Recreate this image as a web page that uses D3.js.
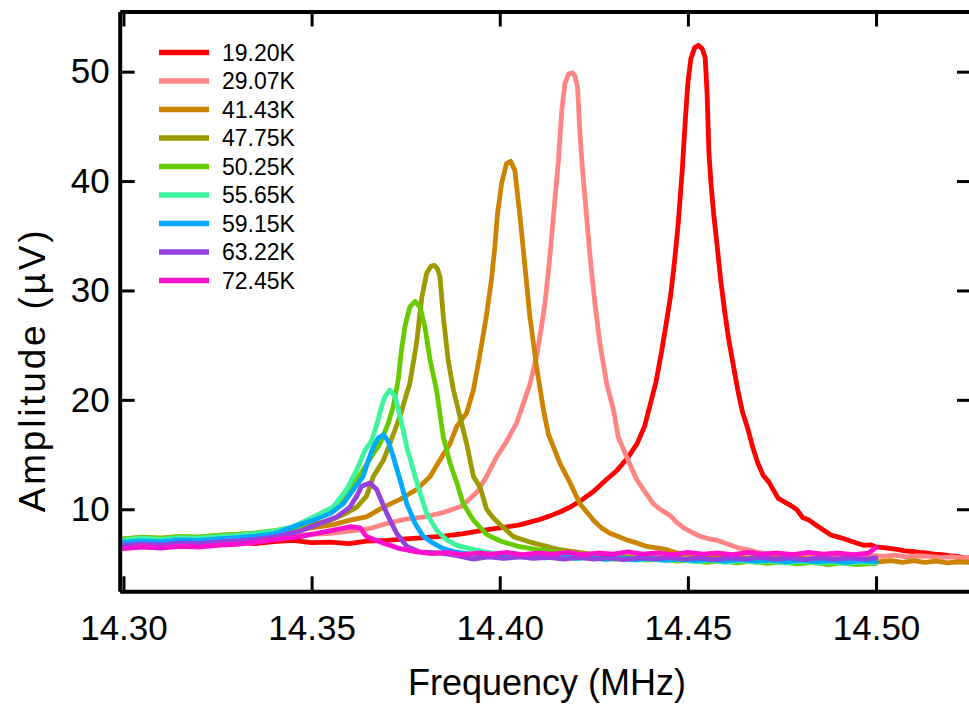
<!DOCTYPE html>
<html>
<head>
<meta charset="utf-8">
<script src="https://cdn.jsdelivr.net/npm/d3@7"></script>
<style>
  html, body { margin: 0; padding: 0; background: #fff; }
  svg { display: block; font-family: "Liberation Sans", Arial, Helvetica, sans-serif; }
</style>
</head>
<body>
<svg id="chart" width="969" height="706"></svg>
<script>
// Resonance amplitude spectra at several temperatures: [frequency (MHz), amplitude (µV)]
const legendLabels = ["19.20K", "29.07K", "41.43K", "47.75K", "50.25K", "55.65K", "59.15K", "63.22K", "72.45K"];
const legendColours = ["#ff0000", "#ff8585", "#cc8400", "#9c9a00", "#66cc00", "#3cf59c", "#00a8ff", "#9640e0", "#ff10cc"];

const xTicks = [14.30, 14.35, 14.40, 14.45, 14.50];
const yTicks = [10, 20, 30, 40, 50];

const t1920 = [
  [14.300,7.00],[14.305,7.10],[14.310,6.95],[14.315,7.05],[14.320,6.90],[14.325,7.10],[14.330,7.00],[14.335,6.85],
  [14.340,7.05],[14.345,7.15],[14.350,6.95],[14.355,7.00],[14.360,6.85],[14.365,7.10],[14.370,7.15],[14.375,7.30],
  [14.380,7.40],[14.385,7.55],[14.390,7.75],[14.395,8.05],[14.400,8.30],[14.405,8.55],[14.410,9.00],[14.413,9.35],
  [14.416,9.75],[14.419,10.25],[14.422,10.90],[14.425,11.65],[14.428,12.60],[14.431,13.50],[14.434,14.70],[14.4365,16.0],
  [14.4385,17.6],[14.4400,19.6],[14.4415,21.6],[14.4430,24.4],[14.4442,26.9],[14.4454,29.5],[14.4464,32.5],[14.4474,36.0],
  [14.4485,41.0],[14.4493,45.5],[14.4500,49.0],[14.4508,51.2],[14.4518,52.2],[14.4528,52.4],[14.4538,52.1],[14.4546,51.3],
  [14.4551,48.0],[14.4556,42.5],[14.4562,39.5],[14.4569,36.8],[14.4578,34.0],[14.4587,31.0],[14.4598,28.0],[14.4609,25.4],
  [14.4620,23.3],[14.4632,21.0],[14.4645,18.9],[14.4658,17.5],[14.4672,15.7],[14.4686,14.2],[14.4700,13.1],[14.4715,12.5],
  [14.4728,11.7],[14.4740,11.0],[14.4755,10.7],[14.4773,10.35],[14.4790,9.95],[14.4805,9.25],[14.4820,9.05],[14.4843,8.50],
  [14.4860,8.10],[14.4880,7.65],[14.4900,7.45],[14.4915,7.30],[14.4932,7.10],[14.4950,6.90],[14.4967,6.70],[14.4985,6.75],
  [14.5000,6.55],[14.5020,6.50],[14.5040,6.40],[14.5060,6.30],[14.5075,6.20],[14.5095,6.15],[14.5115,6.05],[14.5135,6.00],
  [14.5155,5.90],[14.5175,5.85],[14.5195,5.75],[14.5215,5.70],[14.5235,5.55],[14.5252,5.45]
];

const t2907 = [
  [14.300,7.20],[14.305,7.30],[14.310,7.15],[14.315,7.35],[14.320,7.25],[14.325,7.40],[14.330,7.30],[14.335,7.50],
  [14.340,7.45],[14.345,7.60],[14.350,7.70],[14.355,7.80],[14.360,8.00],[14.365,8.20],[14.370,8.70],[14.375,9.10],
  [14.380,9.30],[14.385,9.70],[14.390,10.30],[14.394,11.6],[14.3965,13.0],[14.3992,14.8],[14.4018,16.2],[14.4045,17.9],
  [14.4063,19.7],[14.4080,21.4],[14.4098,24.0],[14.4110,26.5],[14.4120,28.8],[14.4130,32.0],[14.4138,34.9],[14.4147,38.5],
  [14.4156,41.9],[14.4165,46.5],[14.4173,48.9],[14.4183,49.8],[14.4193,49.9],[14.4200,49.6],[14.4207,48.5],[14.4213,44.4],
  [14.4220,41.0],[14.4227,38.3],[14.4240,33.1],[14.4253,28.8],[14.4266,25.2],[14.4284,21.5],[14.4302,19.1],[14.4315,16.6],
  [14.4337,14.8],[14.4364,12.7],[14.4382,11.8],[14.4408,10.5],[14.4430,9.9],[14.4454,9.4],[14.4470,8.8],[14.4489,8.3],
  [14.4510,7.9],[14.4534,7.5],[14.4556,7.3],[14.4578,7.15],[14.4600,6.9],[14.4631,6.5],[14.4660,6.3],[14.4693,6.0],
  [14.472,5.95],[14.475,5.85],[14.478,5.90],[14.481,5.80],[14.484,5.85],[14.487,5.75],[14.490,5.80],[14.493,5.70],
  [14.496,5.80],[14.499,5.75],[14.502,5.70],[14.505,5.80],[14.508,5.65],[14.511,5.75],[14.514,5.70],[14.517,5.60],
  [14.520,5.65],[14.523,5.55],[14.5252,5.60]
];

const t4143 = [
  [14.300,7.30],[14.305,7.40],[14.310,7.35],[14.315,7.50],[14.320,7.45],[14.325,7.60],[14.330,7.70],[14.335,7.80],
  [14.340,7.95],[14.345,8.10],[14.350,8.30],[14.3558,8.6],[14.3602,9.0],[14.3646,9.3],[14.3691,10.2],[14.3735,10.9],
  [14.3779,11.8],[14.3815,13.0],[14.3841,14.5],[14.3868,16.0],[14.3886,17.6],[14.3912,18.8],[14.3930,20.9],[14.3948,24.3],
  [14.3965,27.8],[14.3978,31.0],[14.3987,34.0],[14.3994,37.0],[14.4005,39.8],[14.4018,41.6],[14.4029,41.8],[14.4040,41.0],
  [14.4054,36.7],[14.4067,32.2],[14.4080,27.6],[14.4098,23.0],[14.4116,19.1],[14.4129,16.9],[14.4145,15.5],[14.4160,14.2],
  [14.4187,12.4],[14.4213,10.5],[14.4230,9.8],[14.4249,9.0],[14.4270,8.3],[14.4293,7.8],[14.4315,7.5],[14.4337,7.2],
  [14.4365,6.9],[14.4391,6.6],[14.4420,6.45],[14.4444,6.3],[14.447,6.00],[14.450,5.90],[14.453,5.75],[14.456,5.80],
  [14.459,5.60],[14.462,5.70],[14.465,5.55],[14.468,5.60],[14.471,5.45],[14.474,5.55],[14.477,5.40],[14.480,5.50],
  [14.483,5.35],[14.486,5.45],[14.489,5.30],[14.492,5.40],[14.495,5.25],[14.498,5.35],[14.501,5.20],[14.504,5.30],
  [14.507,5.15],[14.510,5.30],[14.513,5.15],[14.516,5.25],[14.519,5.10],[14.522,5.20],[14.5252,5.15]
];

const t4775 = [
  [14.300,7.25],[14.305,7.35],[14.310,7.30],[14.315,7.45],[14.320,7.40],[14.325,7.55],[14.330,7.65],[14.335,7.80],
  [14.340,8.00],[14.345,8.25],[14.350,8.55],[14.355,9.00],[14.359,9.60],[14.3620,10.2],[14.3646,11.2],[14.3664,13.0],
  [14.3691,14.5],[14.3708,16.0],[14.3735,18.5],[14.3753,20.6],[14.3761,21.5],[14.3779,25.2],[14.3793,29.4],[14.3806,31.6],
  [14.3817,32.2],[14.3826,32.3],[14.3834,32.0],[14.3841,31.3],[14.3850,27.6],[14.3863,23.6],[14.3877,20.9],[14.3894,18.5],
  [14.3912,16.0],[14.3930,13.0],[14.3948,12.0],[14.3965,10.0],[14.3983,9.2],[14.4001,8.6],[14.4036,7.5],[14.4080,7.0],
  [14.4125,6.6],[14.416,6.30],[14.420,6.10],[14.424,5.90],[14.428,5.85],[14.432,5.70],[14.436,5.55],[14.440,5.60],
  [14.444,5.40],[14.448,5.50],[14.452,5.35],[14.456,5.45],[14.460,5.25],[14.464,5.40],[14.468,5.20],[14.472,5.35],
  [14.476,5.15],[14.480,5.30],[14.484,5.10],[14.488,5.25],[14.492,5.05],[14.496,5.20],[14.500,5.15]
];

const t5025 = [
  [14.300,7.30],[14.305,7.45],[14.310,7.35],[14.315,7.50],[14.320,7.45],[14.325,7.60],[14.330,7.70],[14.335,7.85],
  [14.340,8.05],[14.3469,8.4],[14.3513,9.3],[14.3558,10.2],[14.3602,11.8],[14.3637,13.6],[14.3664,15.1],[14.3682,16.0],
  [14.3704,17.9],[14.3717,19.4],[14.3730,21.8],[14.3739,24.6],[14.3748,26.7],[14.3761,28.5],[14.3775,29.0],[14.3788,28.5],
  [14.3801,26.7],[14.3815,23.6],[14.3832,20.9],[14.3850,16.6],[14.3868,14.2],[14.3886,12.4],[14.3903,10.5],[14.3930,9.0],
  [14.3965,7.7],[14.4001,7.1],[14.405,6.60],[14.410,6.30],[14.415,6.10],[14.419,5.85],[14.423,5.70],[14.427,5.60],
  [14.431,5.45],[14.435,5.55],[14.439,5.35],[14.443,5.45],[14.447,5.25],[14.451,5.35],[14.455,5.15],[14.459,5.30],
  [14.463,5.10],[14.467,5.25],[14.471,5.05],[14.475,5.20],[14.479,5.00],[14.483,5.15],[14.487,4.95],[14.491,5.10],
  [14.495,4.95],[14.500,5.05]
];

const t5565 = [
  [14.300,7.20],[14.305,7.35],[14.310,7.25],[14.315,7.40],[14.320,7.35],[14.325,7.50],[14.330,7.60],[14.335,7.80],
  [14.340,8.00],[14.345,8.40],[14.3487,9.0],[14.3522,9.6],[14.3558,10.2],[14.3593,11.8],[14.3620,13.6],[14.3642,15.4],
  [14.3660,16.3],[14.3677,18.2],[14.3686,19.4],[14.3695,20.3],[14.3708,20.9],[14.3722,20.3],[14.3735,18.5],[14.3753,15.7],
  [14.3770,13.6],[14.3788,11.5],[14.3806,9.6],[14.3832,8.1],[14.3859,7.2],[14.3886,6.7],[14.392,6.40],[14.396,6.10],
  [14.400,5.90],[14.404,5.75],[14.408,5.80],[14.412,5.60],[14.416,5.70],[14.420,5.50],[14.424,5.60],[14.428,5.40],
  [14.432,5.50],[14.436,5.35],[14.440,5.45],[14.444,5.30],[14.448,5.40],[14.452,5.20],[14.456,5.35],[14.460,5.15],
  [14.464,5.30],[14.468,5.15],[14.472,5.25],[14.476,5.10],[14.480,5.25],[14.484,5.10],[14.488,5.20],[14.492,5.05],
  [14.496,5.20],[14.500,5.10]
];

const t5915 = [
  [14.300,7.00],[14.305,7.10],[14.310,7.05],[14.315,7.20],[14.320,7.15],[14.325,7.30],[14.330,7.40],[14.335,7.55],
  [14.340,7.75],[14.3469,8.6],[14.3504,9.0],[14.3549,9.6],[14.3584,10.5],[14.3611,11.8],[14.3637,13.0],[14.3651,14.5],
  [14.3664,15.7],[14.3677,16.5],[14.3691,16.8],[14.3704,16.2],[14.3717,14.8],[14.3735,12.7],[14.3753,10.5],[14.3775,8.7],
  [14.3797,7.5],[14.3823,6.9],[14.3850,6.4],[14.388,6.10],[14.392,5.90],[14.396,5.80],[14.400,5.85],[14.404,5.65],
  [14.408,5.75],[14.412,5.55],[14.416,5.70],[14.420,5.50],[14.424,5.60],[14.428,5.45],[14.432,5.55],[14.436,5.40],
  [14.440,5.50],[14.444,5.35],[14.448,5.45],[14.452,5.30],[14.456,5.40],[14.460,5.25],[14.464,5.40],[14.468,5.25],
  [14.472,5.35],[14.476,5.20],[14.480,5.35],[14.484,5.20],[14.488,5.30],[14.492,5.15],[14.496,5.30],[14.500,5.20]
];

const t6322 = [
  [14.300,6.70],[14.305,6.80],[14.310,6.75],[14.315,6.90],[14.320,6.85],[14.325,7.00],[14.330,7.10],[14.335,7.25],
  [14.340,7.45],[14.3469,8.0],[14.3522,8.7],[14.3567,9.3],[14.3602,10.2],[14.3620,11.2],[14.3633,12.1],[14.3655,12.4],
  [14.3673,11.8],[14.3700,9.6],[14.3726,7.8],[14.3753,6.6],[14.3788,6.1],[14.3841,6.0],[14.388,5.80],[14.393,5.45],
  [14.397,5.65],[14.401,5.50],[14.405,5.65],[14.409,5.50],[14.413,5.60],[14.417,5.45],[14.421,5.60],[14.425,5.45],
  [14.429,5.55],[14.433,5.40],[14.437,5.55],[14.441,5.45],[14.445,5.60],[14.449,5.45],[14.453,5.55],[14.457,5.40],
  [14.461,5.55],[14.465,5.45],[14.469,5.60],[14.473,5.45],[14.477,5.55],[14.481,5.40],[14.485,5.55],[14.489,5.45],
  [14.493,5.55],[14.497,5.45],[14.500,5.55]
];

const t7245 = [
  [14.300,6.40],[14.305,6.55],[14.310,6.45],[14.315,6.60],[14.320,6.55],[14.325,6.70],[14.330,6.80],[14.335,6.95],
  [14.340,7.20],[14.3469,7.5],[14.3513,7.8],[14.3558,8.1],[14.3602,8.4],[14.3629,8.3],[14.3646,7.5],[14.3691,6.9],
  [14.3735,6.4],[14.3779,6.1],[14.382,5.95],[14.386,6.05],[14.390,5.85],[14.394,6.00],[14.398,5.90],[14.402,6.05],
  [14.406,5.85],[14.410,6.00],[14.414,5.90],[14.418,6.05],[14.422,5.85],[14.426,6.00],[14.430,5.90],[14.434,6.10],
  [14.438,5.90],[14.442,6.00],[14.446,5.85],[14.450,6.05],[14.454,5.90],[14.458,6.00],[14.462,5.85],[14.466,6.05],
  [14.470,5.90],[14.474,6.00],[14.478,5.85],[14.482,6.05],[14.486,5.90],[14.490,6.00],[14.494,5.85],[14.498,6.00],
  [14.500,6.50]
];

const spectra = [t1920, t2907, t4143, t4775, t5025, t5565, t5915, t6322, t7245];

// Plot frame (right edge sits just past the window)
const frameLeft = 119.7, frameRight = 972, frameTop = 11.5, frameBottom = 591.3;

const svg = d3.select("#chart");

const x = d3.scaleLinear().domain([14.299, 14.5255]).range([frameLeft, frameRight]);
const y = d3.scaleLinear().domain([2.5, 55.5]).range([frameBottom, frameTop]);

// Curves
const line = d3.line().x(d => x(d[0])).y(d => y(d[1]));

svg.append("g")
  .selectAll("path")
  .data(spectra)
  .join("path")
  .attr("d", line)
  .attr("fill", "none")
  .attr("stroke", (d, i) => legendColours[i])
  .attr("stroke-width", 4.8)
  .attr("stroke-linejoin", "round")
  .attr("stroke-linecap", "round");

// Axes: inward ticks, mirrored on top and right
const tickLen = 15;
function styleAxis(g) {
  g.select(".domain").attr("stroke", "#000").attr("stroke-width", 4);
  g.selectAll(".tick line").attr("stroke", "#000").attr("stroke-width", 3);
  g.selectAll(".tick text")
    .attr("fill", "#000")
    .style("font-size", "35px")
    .style("font-family", '"Liberation Sans", Arial, Helvetica, sans-serif');
}

svg.append("g")
  .attr("transform", `translate(0,${frameBottom})`)
  .call(d3.axisBottom(x).tickValues(xTicks).tickFormat(d3.format(".2f"))
    .tickSizeInner(-tickLen).tickSizeOuter(0).tickPadding(24))
  .call(styleAxis);

svg.append("g")
  .attr("transform", `translate(0,${frameTop})`)
  .call(d3.axisTop(x).tickValues(xTicks).tickFormat("")
    .tickSizeInner(-tickLen).tickSizeOuter(0))
  .call(styleAxis);

svg.append("g")
  .attr("transform", `translate(${frameLeft},0)`)
  .call(d3.axisLeft(y).tickValues(yTicks).tickFormat(d3.format("d"))
    .tickSizeInner(-tickLen).tickSizeOuter(0).tickPadding(10))
  .call(styleAxis);

svg.append("g")
  .attr("transform", `translate(${frameRight},0)`)
  .call(d3.axisRight(y).tickValues(yTicks).tickFormat("")
    .tickSizeInner(-tickLen).tickSizeOuter(0))
  .call(styleAxis);

// Axis titles
svg.append("text")
  .attr("x", 547).attr("y", 695)
  .attr("text-anchor", "middle")
  .style("font-size", "36px")
  .text("Frequency (MHz)");

svg.append("text")
  .attr("transform", "translate(45,370) rotate(-90)")
  .attr("text-anchor", "middle")
  .style("font-size", "37px")
  .style("letter-spacing", "2.8px")
  .text("Amplitude  (µV)");

// Legend
const legend = svg.append("g")
  .selectAll("g")
  .data(legendLabels)
  .join("g")
  .attr("transform", (d, i) => `translate(159,${52.5 + i * 28.5})`);

legend.append("line")
  .attr("x1", 0).attr("x2", 50)
  .attr("stroke", (d, i) => legendColours[i])
  .attr("stroke-width", 5.5);

legend.append("text")
  .attr("x", 63).attr("y", 8)
  .style("font-size", "23px")
  .text(d => d);
</script>
</body>
</html>
